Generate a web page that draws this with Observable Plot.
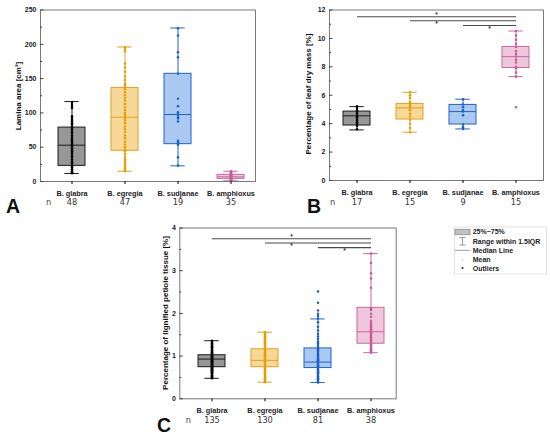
<!DOCTYPE html>
<html><head><meta charset="utf-8">
<script src="https://cdn.jsdelivr.net/npm/d3@7"></script>
<script src="https://cdn.jsdelivr.net/npm/@observablehq/plot@0.6"></script>
<style>
body{margin:0;background:#fff;}
#wrap{position:relative;width:550px;height:436px;overflow:hidden;background:#fff;}
.panel{position:absolute;}
.panel svg{background:transparent !important;}
#overlay{position:absolute;left:0;top:0;pointer-events:none;}
</style></head><body><div id="wrap"></div>
<script>
// ---------- categories & colours ----------
const species = ["B. glabra", "B. egregia", "B. sudjanae", "B. amphioxus"];
const strokeCols = ["#1a1a1a", "#e3a21c", "#1f63c8", "#c8689e"];
const fillCols = ["#979797", "#f7d898", "#a9c8f2", "#efc7dd"];
const dotCols = ["#000000", "#e3a000", "#1a5fc5", "#c65a96"];

// ---------- Panel A: lamina area ----------
const aN = [48, 47, 19, 35];
const aQ1 = [22.8, 44.7, 54.4, 3.9];
const aMed = [52.9, 93.7, 97.6, 6.8];
const aQ3 = [78.6, 136.4, 157, 9.7];
const aLo = [11.7, 15, 22.8, 1];
const aHi = [116.5, 196, 223.8, 15];
const aGlabra = [116,113,110,107,95,93,90,88,85,83,81,79,77,75,72,70,67,65,62,60,58,56,54,53,52,50,48,46,44,42,40,37,35,32,30,28,26,24,23,22,21,20,18,17,15,14,13,12];
const aEgregia = [196,193,190,172,166,160,153,148,143,140,137,134,130,126,122,118,113,108,104,100,97,94,92,89,85,80,76,72,67,63,58,54,50,46,44,40,36,32,29,27,25,23,21,19,17,16,15];
const aSudjanae = [223.5,212.8,188.5,181.2,157,120.5,109.8,101,98,97.2,93.8,92,87.5,59.3,57,55.4,53.5,35.4,23.3];
const aAmphioxus = [15,14,13,12,11.5,11,10.5,10,9.7,9.3,9,8.6,8.2,7.9,7.5,7.2,6.9,6.8,6.5,6.2,5.9,5.6,5.2,4.9,4.6,4.3,4,3.9,3.6,3.2,2.8,2.4,2,1.5,1];
const aTicks = [0, 50, 100, 150, 200, 250];
const aMinor = [25, 75, 125, 175, 225];

// ---------- Panel B: % of leaf dry mass ----------
const bN = [17, 15, 9, 15];
const bQ1 = [3.87, 4.29, 3.94, 7.92];
const bMed = [4.55, 5.11, 4.85, 8.72];
const bQ3 = [4.85, 5.39, 5.32, 9.4];
const bLo = [3.56, 3.4, 3.63, 7.31];
const bHi = [5.2, 6.21, 5.72, 10.52];
const bGlabra = [5.23,5.1,4.95,4.85,4.75,4.7,4.62,4.55,4.5,4.41,4.35,4.22,4.1,3.99,3.9,3.83,3.6];
const bEgregia = [6.21,6.0,5.8,5.5,5.4,5.3,5.15,5.11,4.95,4.7,4.5,4.3,4.0,3.7,3.4];
const bSudjanae = [5.72,5.35,5.15,4.95,4.85,4.6,3.95,3.75,3.63];
const bAmphioxus = [10.52,10.2,9.9,9.6,9.4,9.1,8.9,8.72,8.5,8.3,8.0,7.9,7.6,7.31,5.16];
const bTicks = [0, 2, 4, 6, 8, 10, 12];
const bMinor = [1, 3, 5, 7, 9, 11];
const bSigFrom = ["B. glabra", "B. egregia", "B. sudjanae"];
const bSigY = [11.52, 11.24, 10.91];
const bStarAt = ["B. egregia", "B. egregia", "B. sudjanae"];
const bStarY = [11.62, 11.0, 10.68];

// ---------- Panel C: % of lignified petiole tissue ----------
const cN = [135, 130, 81, 38];
const cQ1 = [0.74, 0.74, 0.72, 1.29];
const cMed = [0.93, 0.9, 0.86, 1.57];
const cQ3 = [1.02, 1.16, 1.18, 2.13];
const cLo = [0.48, 0.39, 0.38, 1.08];
const cHi = [1.36, 1.56, 1.87, 3.4];
const cGlabra = [1.36,1.33,1.3,1.27,1.25,1.23,1.21,1.19,1.17,1.15,1.13,1.12,1.1,1.09,1.07,1.06,1.05,1.04,1.03,1.02,1.01,1.0,0.99,0.98,0.97,0.96,0.95,0.94,0.93,0.93,0.92,0.91,0.9,0.89,0.88,0.87,0.86,0.85,0.84,0.83,0.82,0.81,0.8,0.79,0.78,0.77,0.76,0.75,0.74,0.73,0.72,0.71,0.7,0.69,0.68,0.67,0.66,0.65,0.64,0.63,0.62,0.61,0.6,0.58,0.56,0.55,0.53,0.51,0.5,0.48];
const cEgregia = [1.56,1.54,1.52,1.5,1.48,1.46,1.44,1.42,1.4,1.38,1.36,1.34,1.32,1.3,1.28,1.26,1.24,1.22,1.2,1.18,1.16,1.14,1.12,1.1,1.08,1.06,1.04,1.02,1.0,0.98,0.96,0.94,0.92,0.9,0.88,0.86,0.84,0.82,0.8,0.78,0.76,0.74,0.72,0.7,0.68,0.66,0.64,0.62,0.6,0.58,0.56,0.54,0.52,0.5,0.48,0.46,0.44,0.42,0.4,0.39];
const cSudjanae = [2.51,2.25,2.07,1.99,1.94,1.88,1.79,1.69,1.6,1.52,1.46,1.4,1.34,1.3,1.26,1.22,1.19,1.16,1.13,1.1,1.07,1.05,1.03,1.0,0.98,0.96,0.94,0.92,0.9,0.88,0.87,0.86,0.84,0.82,0.8,0.78,0.76,0.74,0.72,0.7,0.68,0.66,0.64,0.62,0.6,0.58,0.56,0.54,0.52,0.5,0.48,0.46,0.44,0.42,0.4,0.38];
const cAmphioxus = [3.4,3.18,2.94,2.82,2.6,2.12,2.08,1.99,1.92,1.83,1.78,1.74,1.7,1.66,1.62,1.6,1.58,1.56,1.55,1.52,1.5,1.47,1.44,1.4,1.37,1.33,1.3,1.28,1.25,1.22,1.2,1.18,1.16,1.14,1.12,1.11,1.1,1.08];
const cTicks = [0, 1, 2, 3, 4];
const cMinor = [0.5, 1.5, 2.5, 3.5];
const cSigFrom = ["B. glabra", "B. egregia", "B. sudjanae"];
const cSigY = [3.75, 3.65, 3.54];
const cStarAt = ["B. egregia", "B. egregia", "B. sudjanae"];
const cStarY = [3.8, 3.57, 3.46];

// ---------- labels ----------
const yLabels = ["Lamina area [cm²]", "Percentage of leaf dry mass [%]", "Percentage of lignified petiole tissue [%]"];
const panelLetters = ["A", "B", "C"];
const legendLabels = ["25%~75%", "Range within 1.5IQR", "Median Line", "Mean", "Outliers"];

const PAD_IN = 0.5, PAD_OUT = 0.2;

function panel(cfg) {
  const rows = species.map((s, i) => ({s, q1: cfg.q1[i], med: cfg.med[i], q3: cfg.q3[i], lo: cfg.lo[i], hi: cfg.hi[i], st: strokeCols[i], fi: fillCols[i]}));
  const points = cfg.pts.flatMap((arr, i) => arr.map(v => ({s: species[i], v, c: dotCols[i]})));
  const fw = cfg.width - cfg.ml - cfg.mr;
  const rangeW = fw - cfg.insetL - cfg.insetR;
  const step = rangeW / (species.length - PAD_IN + 2 * PAD_OUT);
  const bw = step * (1 - PAD_IN);
  const capIn = Math.max(0, (bw - 14) / 2);
  const marks = [
    Plot.barY(rows, {x: "s", y1: "q1", y2: "q3", fill: "fi"}),
    Plot.ruleX(rows, {x: "s", y1: "lo", y2: "q1", stroke: "st", strokeWidth: 1}),
    Plot.ruleX(rows, {x: "s", y1: "q3", y2: "hi", stroke: "st", strokeWidth: 1}),
    Plot.tickY(rows, {x: "s", y: "lo", stroke: "st", insetLeft: capIn, insetRight: capIn, strokeWidth: 1}),
    Plot.tickY(rows, {x: "s", y: "hi", stroke: "st", insetLeft: capIn, insetRight: capIn, strokeWidth: 1}),
    Plot.dot(points, {x: "s", y: "v", r: 1.25, fill: "c", stroke: null}),
    Plot.barY(rows, {x: "s", y1: "q1", y2: "q3", fill: "none", stroke: "st", strokeWidth: 1}),
    Plot.tickY(rows, {x: "s", y: "med", stroke: "st", strokeWidth: 1}),
    Plot.frame({stroke: "#7a7a7a", strokeWidth: 1}),
    Plot.ruleY(cfg.ticks, {y: d => d, insetRight: fw - 3.5, stroke: "#444"}),
    Plot.ruleY(cfg.minor, {y: d => d, insetRight: fw - 2, stroke: "#444"}),
    Plot.axisY({ticks: cfg.ticks, tickFormat: d => String(d), tickSize: 0, tickPadding: 4, fontSize: 7, fontWeight: "bold", label: null, fill: "#222"}),
    Plot.axisX({tickSize: 3, tickPadding: 6, fontSize: 7.3, fontWeight: "bold", label: null, fill: "#222"}),
    Plot.text(species, {x: d => d, text: (d, i) => String(cfg.n[i]), frameAnchor: "bottom", dy: cfg.nDy, fontSize: 8.2, fontFamily: "DejaVu Sans", fill: "#333"}),
    Plot.text(["n"], {text: d => d, frameAnchor: "bottom-left", textAnchor: "start", dx: cfg.nDx, dy: cfg.nDy, fontSize: 8.2, fontFamily: "DejaVu Sans", fill: "#444"})
  ];
  if (cfg.sigFrom) {
    const sig = cfg.sigFrom.map((f, i) => ({f, t: species[3], y: cfg.sigY[i]}));
    marks.push(Plot.link(sig, {x1: "f", x2: "t", y1: "y", y2: "y", stroke: "#4a4a4a", strokeWidth: 1.1}));
    const stars = cfg.starAt.map((s, i) => ({s, y: cfg.starY[i]}));
    marks.push(Plot.text(stars, {x: "s", y: "y", text: d => "*", dx: step / 2, fontSize: 6.5, fontWeight: "bold", fill: "#333"}));
  }
  return Plot.plot({
    width: cfg.width, height: cfg.height,
    marginLeft: cfg.ml, marginRight: cfg.mr, marginTop: cfg.mt, marginBottom: cfg.mb,
    style: {fontFamily: "'Liberation Sans', Arial, sans-serif", background: "transparent", overflow: "visible"},
    x: {type: "band", domain: species, paddingInner: PAD_IN, paddingOuter: PAD_OUT, insetLeft: cfg.insetL, insetRight: cfg.insetR, axis: null},
    y: {domain: [0, cfg.yMax], axis: null},
    color: {type: "identity"},
    marks
  });
}

const wrap = document.getElementById("wrap");
function place(node, left, top) {
  const d = document.createElement("div");
  d.className = "panel";
  d.style.left = left + "px";
  d.style.top = top + "px";
  d.appendChild(node);
  wrap.appendChild(d);
}

place(panel({q1: aQ1, med: aMed, q3: aQ3, lo: aLo, hi: aHi, pts: [aGlabra, aEgregia, aSudjanae, aAmphioxus], n: aN,
  yMax: 250, ticks: aTicks, minor: aMinor, width: 275, height: 218, ml: 40, mr: 20, mt: 9.5, mb: 37, insetL: 6.5, insetR: 1, nDx: 5.5, nDy: 23.5}), 0, 0);

place(panel({q1: bQ1, med: bMed, q3: bQ3, lo: bLo, hi: bHi, pts: [bGlabra, bEgregia, bSudjanae, bAmphioxus], n: bN,
  yMax: 12, ticks: bTicks, minor: bMinor, width: 275, height: 218, ml: 54, mr: 7, mt: 9.5, mb: 38, insetL: 2.8, insetR: 3.7, nDx: 0.5, nDy: 24,
  sigFrom: bSigFrom, sigY: bSigY, starAt: bStarAt, starY: bStarY}), 275, 0);

place(panel({q1: cQ1, med: cMed, q3: cQ3, lo: cLo, hi: cHi, pts: [cGlabra, cEgregia, cSudjanae, cAmphioxus], n: cN,
  yMax: 4, ticks: cTicks, minor: cMinor, width: 290, height: 218, ml: 49.3, mr: 24.3, mt: 9.5, mb: 37.7, insetL: 7.5, insetR: 1.8, nDx: 6, nDy: 24.4,
  sigFrom: cSigFrom, sigY: cSigY, starAt: cStarAt, starY: cStarY}), 130, 218);

// ---------- overlay: panel letters, y labels, legend ----------
const ov = d3.select(wrap).append("svg").attr("id", "overlay").attr("width", 550).attr("height", 436)
  .style("font-family", "'Liberation Sans', Arial, sans-serif");

const letterPos = [[6, 213], [307, 213], [157, 432]];
panelLetters.forEach((t, i) => ov.append("text").attr("x", letterPos[i][0]).attr("y", letterPos[i][1])
  .attr("font-size", 19.5).attr("font-weight", "bold").attr("fill", "#111").text(t));

const ylabPos = [[18, 96], [308, 94], [165.5, 313]];
yLabels.forEach((t, i) => ov.append("text")
  .attr("transform", `translate(${ylabPos[i][0]},${ylabPos[i][1]}) rotate(-90)`)
  .attr("text-anchor", "middle").attr("dominant-baseline", "central")
  .attr("font-size", 8).attr("font-weight", "bold").attr("fill", "#111").text(t));

const lg = ov.append("g");
lg.append("rect").attr("x", 454.5).attr("y", 227).attr("width", 92).attr("height", 47)
  .attr("fill", "#fff").attr("stroke", "#dcdcdc").attr("stroke-width", 0.8);
lg.append("rect").attr("x", 455).attr("y", 229.3).attr("width", 15).attr("height", 5.4)
  .attr("fill", "#c2c2c2").attr("stroke", "#8a8a8a").attr("stroke-width", 0.8);
lg.append("line").attr("x1", 462.5).attr("x2", 462.5).attr("y1", 237.5).attr("y2", 245).attr("stroke", "#9a9a9a");
lg.append("line").attr("x1", 459.5).attr("x2", 465.5).attr("y1", 237.5).attr("y2", 237.5).attr("stroke", "#9a9a9a");
lg.append("line").attr("x1", 459.5).attr("x2", 465.5).attr("y1", 245).attr("y2", 245).attr("stroke", "#9a9a9a");
lg.append("line").attr("x1", 455).attr("x2", 470).attr("y1", 250.3).attr("y2", 250.3).attr("stroke", "#9a9a9a");
lg.append("circle").attr("cx", 462.5).attr("cy", 259.6).attr("r", 0.9).attr("fill", "#cfcfcf");
lg.append("circle").attr("cx", 462.5).attr("cy", 268).attr("r", 1.1).attr("fill", "#333");
const legY = [231.5, 241.3, 250.3, 259.6, 268];
legendLabels.forEach((t, i) => lg.append("text").attr("x", 472.7).attr("y", legY[i])
  .attr("dominant-baseline", "central").attr("font-size", 7).attr("font-weight", "bold").attr("fill", "#222").text(t));
</script>
</body></html>
